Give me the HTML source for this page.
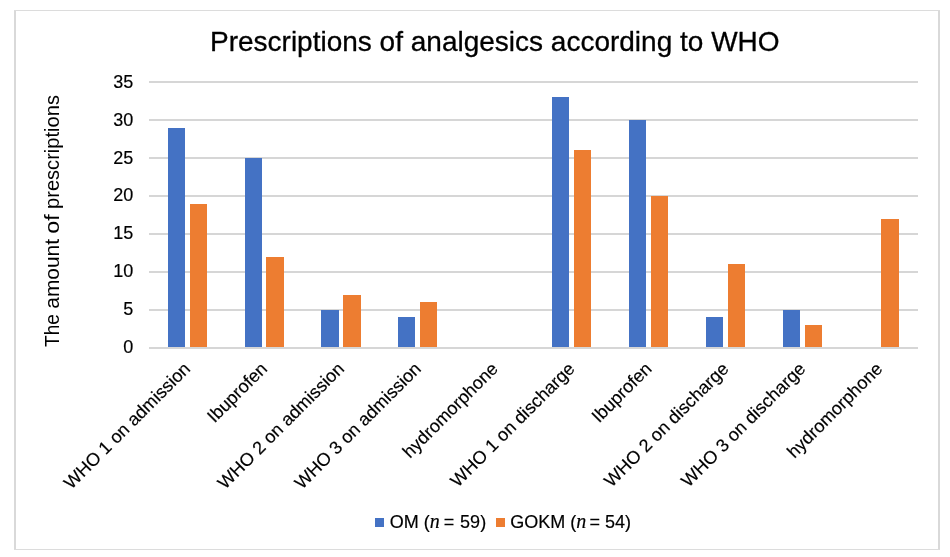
<!DOCTYPE html>
<html lang="en"><head><meta charset="utf-8"><title>Prescriptions of analgesics according to WHO</title>
<style>html,body{margin:0;padding:0;background:#fff}svg{display:block}text{font-family:"Liberation Sans",Arial,sans-serif;fill:#000;stroke:#000;stroke-width:0.18px;stroke-linejoin:round}.n{font-family:"Liberation Serif","DejaVu Serif",serif;font-style:italic}</style></head><body>
<svg width="950" height="557" viewBox="0 0 950 557">
<rect x="0" y="0" width="950" height="557" fill="#fff"/>
<rect x="14" y="10" width="2" height="540" fill="#d9d9d9"/><rect x="938" y="10" width="2" height="540" fill="#d9d9d9"/>
<rect x="14" y="10" width="926" height="1" fill="#dcdcdc"/><rect x="14" y="549" width="926" height="1" fill="#dcdcdc"/>
<text x="494.8" y="51" font-size="28" style="stroke-width:0.3px" text-anchor="middle">Prescriptions of analgesics according to WHO</text>
<line x1="149.0" x2="918.0" y1="348.00" y2="348.00" stroke="#d6d6d6" stroke-width="2"/>
<text x="133.3" y="353" font-size="18.0" text-anchor="end">0</text>
<line x1="149.0" x2="918.0" y1="310.00" y2="310.00" stroke="#d6d6d6" stroke-width="2"/>
<text x="133.3" y="315" font-size="18.0" text-anchor="end">5</text>
<line x1="149.0" x2="918.0" y1="272.00" y2="272.00" stroke="#d6d6d6" stroke-width="2"/>
<text x="133.3" y="277" font-size="18.0" text-anchor="end">10</text>
<line x1="149.0" x2="918.0" y1="234.00" y2="234.00" stroke="#d6d6d6" stroke-width="2"/>
<text x="133.3" y="239" font-size="18.0" text-anchor="end">15</text>
<line x1="149.0" x2="918.0" y1="196.00" y2="196.00" stroke="#d6d6d6" stroke-width="2"/>
<text x="133.3" y="201" font-size="18.0" text-anchor="end">20</text>
<line x1="149.0" x2="918.0" y1="158.00" y2="158.00" stroke="#d6d6d6" stroke-width="2"/>
<text x="133.3" y="164" font-size="18.0" text-anchor="end">25</text>
<line x1="149.0" x2="918.0" y1="120.00" y2="120.00" stroke="#d6d6d6" stroke-width="2"/>
<text x="133.3" y="126" font-size="18.0" text-anchor="end">30</text>
<line x1="149.0" x2="918.0" y1="82.00" y2="82.00" stroke="#d6d6d6" stroke-width="2"/>
<text x="133.3" y="88" font-size="18.0" text-anchor="end">35</text>
<rect x="168" y="128" width="17" height="219" fill="#4472c4"/>
<rect x="190" y="204" width="17" height="143" fill="#ed7d31"/>
<rect x="245" y="158" width="17" height="189" fill="#4472c4"/>
<rect x="266" y="257" width="18" height="90" fill="#ed7d31"/>
<rect x="321" y="310" width="18" height="37" fill="#4472c4"/>
<rect x="343" y="295" width="18" height="52" fill="#ed7d31"/>
<rect x="398" y="317" width="17" height="30" fill="#4472c4"/>
<rect x="420" y="302" width="17" height="45" fill="#ed7d31"/>
<rect x="552" y="97" width="17" height="250" fill="#4472c4"/>
<rect x="574" y="150" width="17" height="197" fill="#ed7d31"/>
<rect x="629" y="120" width="17" height="227" fill="#4472c4"/>
<rect x="651" y="196" width="17" height="151" fill="#ed7d31"/>
<rect x="706" y="317" width="17" height="30" fill="#4472c4"/>
<rect x="728" y="264" width="17" height="83" fill="#ed7d31"/>
<rect x="783" y="310" width="17" height="37" fill="#4472c4"/>
<rect x="805" y="325" width="17" height="22" fill="#ed7d31"/>
<rect x="881" y="219" width="18" height="128" fill="#ed7d31"/>
<text font-size="18.0" text-anchor="end" transform="translate(191.45 369.8) rotate(-45)">WHO 1 on admission</text>
<text font-size="18.0" text-anchor="end" transform="translate(268.35 369.8) rotate(-45)">Ibuprofen</text>
<text font-size="18.0" text-anchor="end" transform="translate(345.25 369.8) rotate(-45)">WHO 2 on admission</text>
<text font-size="18.0" text-anchor="end" transform="translate(422.15 369.8) rotate(-45)">WHO 3 on admission</text>
<text font-size="18.0" text-anchor="end" transform="translate(499.05 369.8) rotate(-45)">hydromorphone</text>
<text font-size="18.0" text-anchor="end" transform="translate(575.95 369.8) rotate(-45)">WHO 1 on discharge</text>
<text font-size="18.0" text-anchor="end" transform="translate(652.85 369.8) rotate(-45)">Ibuprofen</text>
<text font-size="18.0" text-anchor="end" transform="translate(729.75 369.8) rotate(-45)">WHO 2 on discharge</text>
<text font-size="18.0" text-anchor="end" transform="translate(806.65 369.8) rotate(-45)">WHO 3 on discharge</text>
<text font-size="18.0" text-anchor="end" transform="translate(883.55 369.8) rotate(-45)">hydromorphone</text>
<text font-size="20.4" style="stroke:none" transform="translate(58.6 221) rotate(-90)"><tspan x="-126.0" textLength="32.8" lengthAdjust="spacingAndGlyphs">The</tspan> <tspan x="-87.7" textLength="69.7" lengthAdjust="spacingAndGlyphs">amount</tspan> <tspan x="-12.8" textLength="19.5" lengthAdjust="spacingAndGlyphs">of</tspan> <tspan x="12.0" textLength="114.0" lengthAdjust="spacingAndGlyphs">prescriptions</tspan></text>
<rect x="375" y="518" width="9" height="9" fill="#4472c4"/>
<text x="389.8" y="528" font-size="18.0">OM (<tspan class="n" font-size="20">n</tspan><tspan dx="-1"> = </tspan><tspan dx="0.8">59)</tspan></text>
<rect x="496" y="518" width="9" height="9" fill="#ed7d31"/>
<text x="510.2" y="528" font-size="18.0">GOKM (<tspan class="n" font-size="20">n</tspan><tspan dx="-1.8"> = </tspan><tspan dx="0.1">54)</tspan></text>
</svg></body></html>
